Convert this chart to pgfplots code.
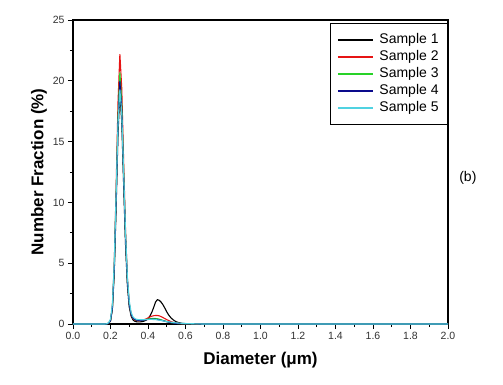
\documentclass[border=0pt]{standalone}
\usepackage{fontspec}
\setmainfont{Liberation Sans}
\usepackage{pgfplots}
\pgfplotsset{compat=1.18}
\definecolor{sRed}{RGB}{230,20,20}
\definecolor{sGreen}{RGB}{40,210,40}
\definecolor{sBlue}{RGB}{10,10,140}
\definecolor{sCyan}{RGB}{80,210,225}
\definecolor{tickgray}{RGB}{50,50,50}
\begin{document}
\begin{tikzpicture}
\useasboundingbox (-73pt,-60pt) rectangle (430pt,324pt);
\begin{axis}[
  at={(0pt,0pt)}, anchor=south west,
  width=375pt, height=304pt, scale only axis,
  xmin=0, xmax=2, ymin=0, ymax=25,
  xtick={0,0.2,0.4,0.6,0.8,1.0,1.2,1.4,1.6,1.8,2.0},
  ytick={0,5,10,15,20,25},
  minor x tick num=1, minor y tick num=1,
  xtick pos=bottom, ytick pos=left,
  tick align=outside,
  major tick length=5pt, minor tick length=3pt,
  every tick/.style={black, line width=0.8pt},
  axis line style={line width=1.2pt},
  clip=false,
  /pgf/number format/assume math mode=true,
  xticklabel style={font=\fontsize{10.5}{12}\selectfont, text=tickgray, /pgf/number format/.cd, fixed, fixed zerofill, precision=1},
  yticklabel style={font=\fontsize{10.5}{12}\selectfont, text=tickgray},
  xlabel={\bfseries Diameter (μm)},
  x label style={font=\fontsize{17}{17}\selectfont, at={(axis description cs:0.5,0)}, anchor=center, yshift=-36pt},
  legend style={at={(rel axis cs:1,0.99)}, anchor=north east, draw=black, line width=0.8pt,
    font=\fontsize{14}{14}\selectfont, row sep=0pt, inner xsep=7pt, inner ysep=8pt,
    nodes={inner sep=2pt, text height=10pt, text depth=3pt},
    /tikz/every odd column/.style={column sep=4pt},
    /tikz/every even column/.style={column sep=4pt}},
  legend cell align=left,
  legend image code/.code={\draw[#1, line width=1.2pt] (0pt,0pt) -- (35pt,0pt);},
  every axis plot/.append style={line width=1.1pt},
]
\addplot[black] coordinates {
(0,0) (0.18,0) (0.19,0.05) (0.20,0.25) (0.21,1.2) (0.22,4.2) (0.23,9.6) (0.24,15.6) (0.25,19.0)
(0.26,16.6) (0.27,11.5) (0.28,6.6) (0.29,3.2) (0.30,1.4) (0.31,0.65) (0.32,0.33) (0.33,0.22)
(0.34,0.18) (0.35,0.17) (0.36,0.18) (0.37,0.2) (0.38,0.24) (0.39,0.32) (0.40,0.45) (0.41,0.65)
(0.42,0.95) (0.43,1.35) (0.44,1.8) (0.45,2.0) (0.46,1.95) (0.47,1.8) (0.48,1.58) (0.49,1.3)
(0.50,1.0) (0.51,0.75) (0.52,0.55) (0.53,0.4) (0.54,0.28) (0.55,0.19) (0.56,0.13) (0.58,0.06)
(0.60,0.03) (0.65,0.01) (0.70,0) (2.0,0)};
\addlegendentry{Sample 1}
\addplot[sRed] coordinates {
(0,0) (0.18,0) (0.19,0.07) (0.20,0.29) (0.21,1.4) (0.22,4.9) (0.23,11.2) (0.24,18.2) (0.25,22.2)
(0.26,19.4) (0.27,13.4) (0.28,7.8) (0.29,3.8) (0.30,1.7) (0.31,0.78) (0.32,0.45) (0.33,0.32)
(0.34,0.28) (0.35,0.27) (0.36,0.28) (0.37,0.3) (0.38,0.36) (0.39,0.42) (0.40,0.5) (0.41,0.58)
(0.42,0.64) (0.43,0.68) (0.44,0.7) (0.45,0.7) (0.46,0.67) (0.47,0.61) (0.48,0.53) (0.49,0.44)
(0.50,0.36) (0.52,0.21) (0.54,0.11) (0.56,0.05) (0.58,0.02) (0.60,0.01) (0.70,0) (2.0,0)};
\addlegendentry{Sample 2}
\addplot[sGreen] coordinates {
(0,0) (0.18,0) (0.19,0.08) (0.20,0.3) (0.21,1.35) (0.22,4.6) (0.23,10.5) (0.24,17.0) (0.25,20.7)
(0.26,18.1) (0.27,12.6) (0.28,7.3) (0.29,3.6) (0.30,1.65) (0.31,0.8) (0.32,0.48) (0.33,0.36)
(0.34,0.32) (0.35,0.3) (0.36,0.3) (0.37,0.31) (0.38,0.34) (0.39,0.37) (0.40,0.4) (0.41,0.43)
(0.42,0.45) (0.43,0.46) (0.44,0.45) (0.45,0.43) (0.46,0.4) (0.47,0.35) (0.48,0.3) (0.50,0.2)
(0.52,0.12) (0.54,0.07) (0.56,0.04) (0.60,0.015) (0.70,0) (2.0,0)};
\addlegendentry{Sample 3}
\addplot[sBlue] coordinates {
(0,0) (0.18,0) (0.19,0.07) (0.20,0.28) (0.21,1.3) (0.22,4.5) (0.23,10.2) (0.24,16.5) (0.25,20.0)
(0.26,17.6) (0.27,12.3) (0.28,7.2) (0.29,3.55) (0.30,1.6) (0.31,0.8) (0.32,0.48) (0.33,0.36)
(0.34,0.32) (0.35,0.3) (0.36,0.3) (0.37,0.31) (0.38,0.33) (0.39,0.35) (0.40,0.37) (0.41,0.39)
(0.42,0.4) (0.43,0.4) (0.44,0.39) (0.45,0.37) (0.46,0.34) (0.48,0.27) (0.50,0.19) (0.52,0.12)
(0.54,0.07) (0.56,0.04) (0.60,0.015) (0.70,0) (2.0,0)};
\addlegendentry{Sample 4}
\addplot[sCyan] coordinates {
(0,0) (0.17,0) (0.18,0.02) (0.19,0.1) (0.20,0.4) (0.21,1.6) (0.22,5.0) (0.23,10.6) (0.24,16.4)
(0.25,19.3) (0.26,17.3) (0.27,12.5) (0.28,7.6) (0.29,3.9) (0.30,1.9) (0.31,0.95) (0.32,0.58)
(0.33,0.44) (0.34,0.38) (0.35,0.36) (0.36,0.35) (0.37,0.35) (0.38,0.36) (0.39,0.37) (0.40,0.38)
(0.42,0.38) (0.44,0.36) (0.46,0.32) (0.48,0.26) (0.50,0.2) (0.55,0.09) (0.60,0.04) (0.65,0.015)
(0.70,0) (2.0,0)};
\addlegendentry{Sample 5}
\node[font=\fontsize{17}{17}\selectfont\bfseries, rotate=90, anchor=center] at (axis description cs:-0.0907,0.5) {Number Fraction (\%)};
\node[font=\fontsize{14}{14}\selectfont, anchor=center] at (rel axis cs:1.053,0.48) {(b)};
\end{axis}
\end{tikzpicture}
\end{document}
